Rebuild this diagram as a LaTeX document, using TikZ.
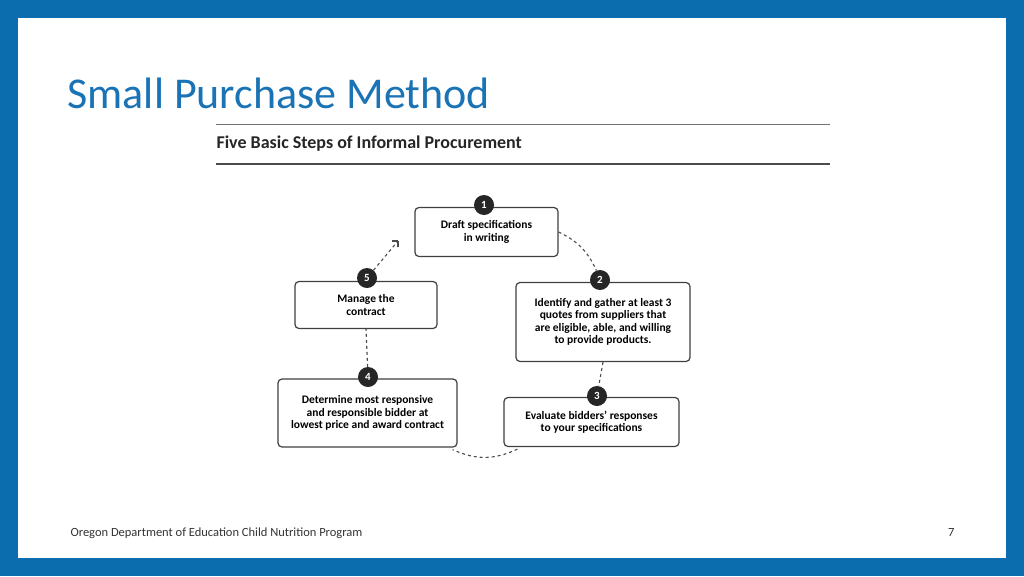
\documentclass[tikz,border=0pt]{standalone}
\usepackage{fontspec}
\setmainfont{Carlito}
\usetikzlibrary{calc}
\definecolor{frameblue}{HTML}{0B6DAE}
\definecolor{titleblue}{HTML}{1A73B5}
\tikzset{
  stepbox/.style={draw=black!75, line width=1.2pt, rounded corners=4pt, fill=white, align=center, font=\fontsize{11.5}{12.5}\selectfont\bfseries},
  numdot/.style={circle, fill=black!85, text=white, inner sep=0pt, minimum size=20pt, font=\fontsize{11}{11}\selectfont\bfseries},
  link/.style={dashed, line width=1.1pt, black!70}
}
\begin{document}
\begin{tikzpicture}[x=1pt, y=-1pt]
\fill [frameblue] (0, 0) rectangle (1024, 576);
\fill [white] (18, 18) rectangle (1006, 558);
\useasboundingbox (0, 0) rectangle (1024, 576);

\node [anchor=base west, text=titleblue, font=\fontsize{44}{44}\selectfont] (title) at (64, 108) {Small Purchase Method};
\draw [black!55, line width=1pt] (216, 124) -- (830, 124);
\draw [black!70, line width=1.2pt] (216, 164) -- (830, 164);
\node [anchor=west, font=\fontsize{18}{18}\selectfont\bfseries, text=black!85] (head) at (213, 144) {Five Basic Steps of Informal Procurement};

\node [stepbox, minimum width=143pt, minimum height=49pt] (s1) at (486.5, 232) {Draft specifications\\in writing};
\node [stepbox, minimum width=174pt, minimum height=79pt] (s2) at (603, 322) {Identify and gather at least 3\\quotes from suppliers that\\are eligible, able, and willing\\to provide products.};
\node [stepbox, minimum width=175pt, minimum height=49pt] (s3) at (591.5, 422) {Evaluate bidders' responses\\to your specifications};
\node [stepbox, minimum width=179pt, minimum height=68pt, inner sep=1pt] (s4) at (367.5, 413) {Determine most responsive\\and responsible bidder at\\lowest price and award contract};
\node [stepbox, minimum width=142pt, minimum height=47pt] (s5) at (366, 305) {Manage the\\contract};

\node [numdot] (n1) at (484, 205) {1};
\node [numdot] (n2) at (600, 280) {2};
\node [numdot] (n3) at (597, 396) {3};
\node [numdot] (n4) at (368, 377) {4};
\node [numdot] (n5) at (367, 278) {5};
\coordinate (back) at (398, 241);

\draw [link] (s1.east) to [bend left=20] (n2);
\draw [link] (s2.south) -- (n3);
\draw [link] ($(s3.south west)+(14,2)$) to [bend left=25] ($(s4.south east)+(-5,2)$);
\draw [link] (n4) -- (s5.south);
\draw [link] (n5) -- (back);
\draw [black!70, line width=1.6pt] (back) -- ++(-6, 0) (back) -- ++(0, 6);

\node [anchor=base west, font=\fontsize{12.5}{12.5}\selectfont, text=black!80] (foot) at (67, 536) {Oregon Department of Education Child Nutrition Program};
\node [anchor=base east, font=\fontsize{12.5}{12.5}\selectfont, text=black!80] (page) at (958, 536) {7};
\end{tikzpicture}
\end{document}
